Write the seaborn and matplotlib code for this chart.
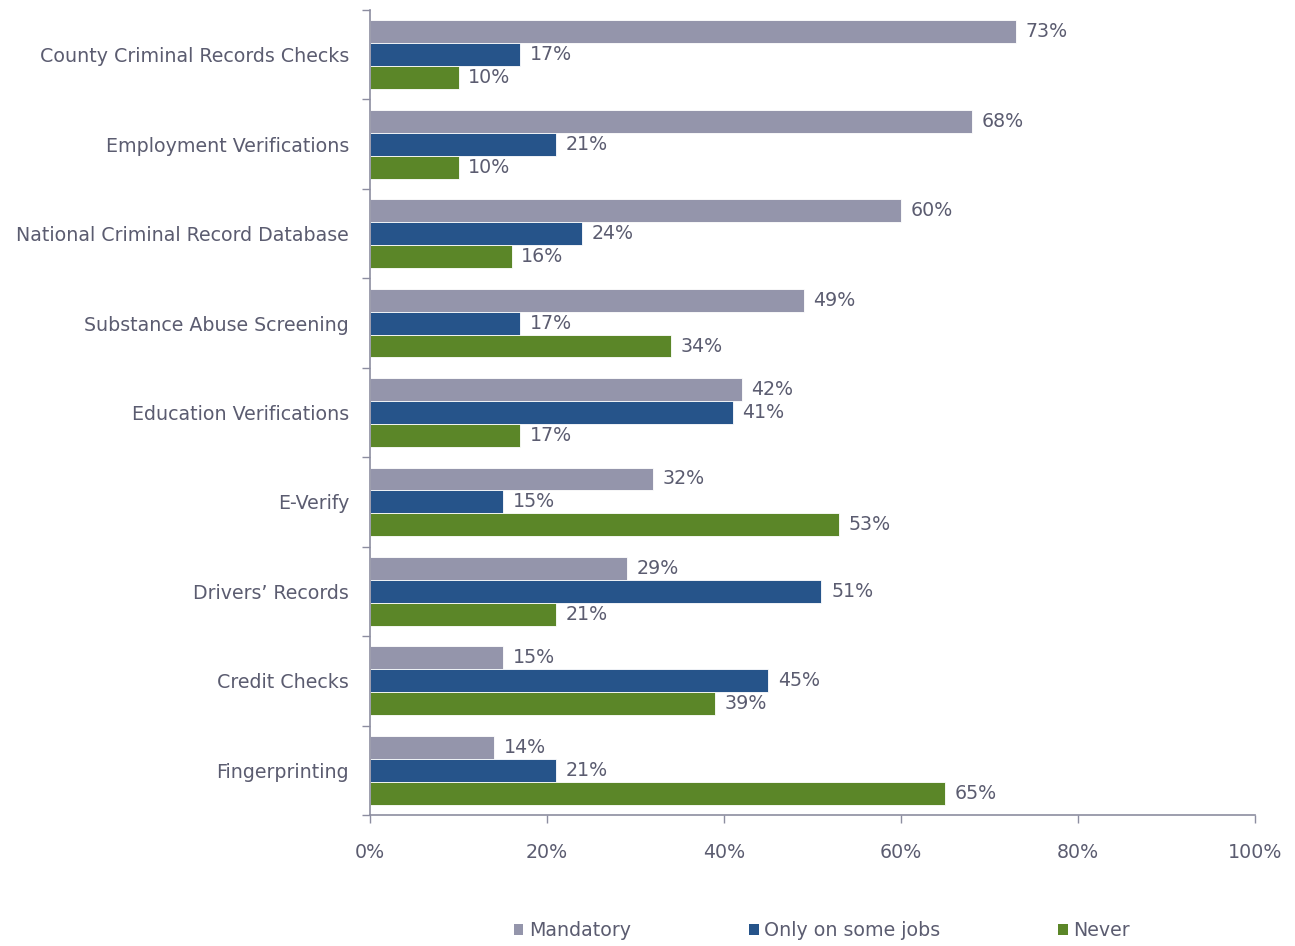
import matplotlib
matplotlib.use("Agg")
import matplotlib.pyplot as plt
import seaborn as sns
import pandas as pd
import numpy as np
from matplotlib.ticker import FixedLocator, FuncFormatter
from matplotlib.patches import Patch

categories = [
    "County Criminal Records Checks",
    "Employment Verifications",
    "National Criminal Record Database",
    "Substance Abuse Screening",
    "Education Verifications",
    "E-Verify",
    "Drivers\u2019 Records",
    "Credit Checks",
    "Fingerprinting",
]
series_names = ["Mandatory", "Only on some jobs", "Never"]
mandatory = [73, 68, 60, 49, 42, 32, 29, 15, 14]
some_jobs = [17, 21, 24, 17, 41, 15, 51, 45, 21]
never = [10, 10, 16, 34, 17, 53, 21, 39, 65]
x_ticks = [0, 20, 40, 60, 80, 100]

colors = ["#9495AB", "#26548A", "#5B8628"]
text_color = "#5B5C70"
axis_color = "#8C8DA0"

rows = []
for name, vals in zip(series_names, [mandatory, some_jobs, never]):
    for c, v in zip(categories, vals):
        rows.append({"category": c, "series": name, "value": v})
df = pd.DataFrame(rows)

sns.set_style("white")
plt.rcParams["font.family"] = ["DejaVu Sans"]

fig = plt.figure(figsize=(12.95, 9.46), dpi=100)
ax = fig.add_axes([370 / 1295, 1 - 815 / 946, (1255 - 370) / 1295, (815 - 10) / 946])

sns.barplot(data=df, y="category", x="value", hue="series", order=categories,
            hue_order=series_names, palette=colors, orient="h", width=0.77,
            ax=ax, legend=False, edgecolor="white", linewidth=0.6, saturation=1)

fs = 13.7
for cont in ax.containers:
    labels = [f"{int(round(b.get_width()))}%" for b in cont]
    ax.bar_label(cont, labels=labels, padding=7, fontsize=fs, color=text_color)

ax.set_xlim(0, 100)
ax.set_ylim(len(categories) - 0.5, -0.5)
ax.set_xlabel("")
ax.set_ylabel("")
ax.xaxis.set_major_locator(FixedLocator(x_ticks))
ax.xaxis.set_major_formatter(FuncFormatter(lambda v, p: f"{int(v)}%"))
ax.tick_params(axis="x", length=6, width=1, color=axis_color, pad=14,
               labelsize=fs, labelcolor=text_color, direction="out", bottom=True)
ax.tick_params(axis="y", which="major", length=0, pad=15, labelsize=fs, labelcolor=text_color)
ax.yaxis.set_minor_locator(FixedLocator(np.arange(-0.5, len(categories) + 0.5, 1)))
ax.tick_params(axis="y", which="minor", length=6, width=1, color=axis_color, left=True)

for s in ["top", "right"]:
    ax.spines[s].set_visible(False)
for s in ["left", "bottom"]:
    ax.spines[s].set_color(axis_color)
    ax.spines[s].set_linewidth(1.2)

handles = [Patch(facecolor=c, edgecolor="none") for c in colors]
fig.legend(handles, series_names, loc="lower center", bbox_to_anchor=(822 / 1295, -0.012),
           ncol=3, frameon=False, fontsize=fs, labelcolor=text_color,
           handlelength=0.5, handleheight=0.5, handletextpad=0.3, columnspacing=6.2)

fig.savefig("out.png", dpi=100)
